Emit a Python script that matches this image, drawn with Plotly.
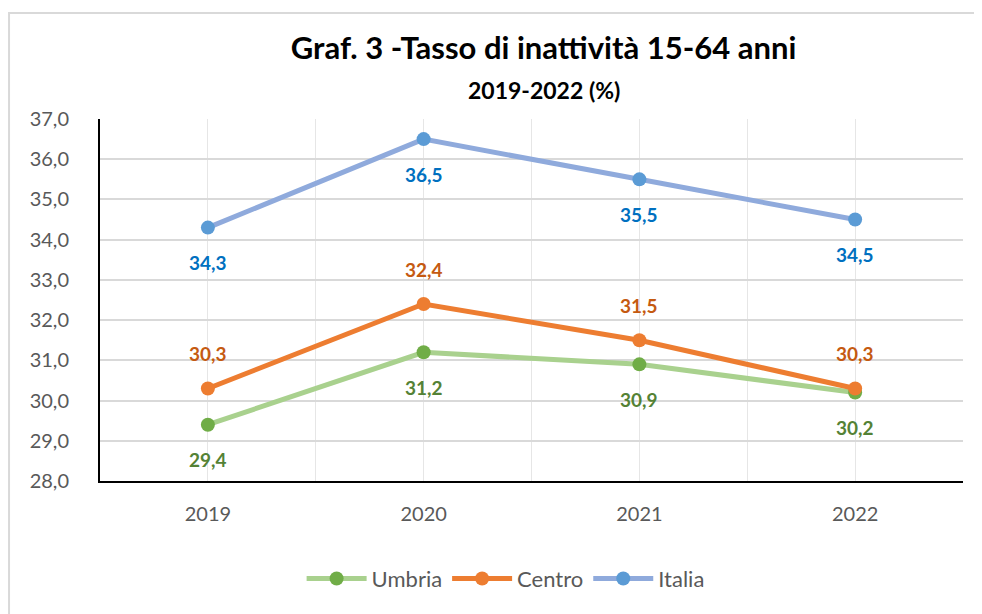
import plotly.graph_objects as go

years = ["2019", "2020", "2021", "2022"]
umbria = [29.4, 31.2, 30.9, 30.2]
centro = [30.3, 32.4, 31.5, 30.3]
italia = [34.3, 36.5, 35.5, 34.5]

y_ticks = [28, 29, 30, 31, 32, 33, 34, 35, 36, 37]

FONT = "Lato, Calibri, sans-serif"

# name, values, line colour, marker colour, label colour, label shift
series = [
    ("Umbria", umbria, "#A9D18E", "#70AD47", "#548235", -35),
    ("Centro", centro, "#ED7D31", "#ED7D31", "#C55A11", 35),
    ("Italia", italia, "#8FAADC", "#5B9BD5", "#0070C0", -35),
]

x = list(range(len(years)))

fig = go.Figure()
annotations = []
for name, vals, lc, mc, tc, shift in series:
    fig.add_trace(go.Scatter(
        x=x, y=vals, name=name, mode="lines+markers",
        line=dict(color=lc, width=5),
        marker=dict(color=mc, size=14),
    ))
    for xi, v in zip(x, vals):
        annotations.append(dict(
            x=xi, y=v, xref="x", yref="y", showarrow=False,
            text="<b>" + f"{v:.1f}".replace(".", ",") + "</b>", yshift=shift,
            font=dict(family=FONT, size=19, color=tc),
        ))

annotations.append(dict(
    x=0.514, y=1.08, xref="paper", yref="paper", showarrow=False,
    text="<b>2019-2022 (%)</b>", xanchor="center", yanchor="middle",
    font=dict(family=FONT, size=23, color="#000000"),
))

# the page puts the figure 8px in from the top-left corner
fig.update_layout(
    width=974, height=606,
    margin=dict(l=92, r=19, t=111, b=133),
    paper_bgcolor="white", plot_bgcolor="white",
    title=dict(text="<b>Graf. 3 -Tasso di inattività 15-64 anni</b>",
               xref="paper", x=0.514, xanchor="center", y=1 - 40 / 606, yanchor="middle",
               font=dict(family=FONT, size=31, color="#000000")),
    annotations=annotations,
    showlegend=True,
    legend=dict(orientation="h", x=0.47, xanchor="center", y=-0.27, yanchor="middle",
                font=dict(family=FONT, size=22, color="#595959"), itemwidth=60),
    shapes=[dict(type="rect", xref="paper", yref="paper",
                 x0=-0.1054, x1=1.0174, y0=-0.4, y1=1.293,
                 line=dict(color="#D9D9D9", width=2), layer="below")],
)

fig.update_xaxes(
    range=[-0.5, 3.5], tickvals=x, ticktext=years,
    showgrid=True, gridcolor="#E6E6E6", gridwidth=1,
    minor=dict(tick0=-0.5, dtick=1, showgrid=True, gridcolor="#E6E6E6"),
    showline=True, linecolor="#000000", linewidth=2,
    ticks="", ticklabelstandoff=14,
    tickfont=dict(family=FONT, size=20, color="#595959"),
    zeroline=False,
)
fig.update_yaxes(
    range=[28, 37], tickvals=y_ticks,
    ticktext=[f"{t:.1f}".replace(".", ",") for t in y_ticks],
    showgrid=True, gridcolor="#D9D9D9", gridwidth=2,
    showline=True, linecolor="#000000", linewidth=2,
    ticks="", ticklabelstandoff=25,
    tickfont=dict(family=FONT, size=20, color="#595959"),
    zeroline=False,
)

fig.write_html("out.html")
